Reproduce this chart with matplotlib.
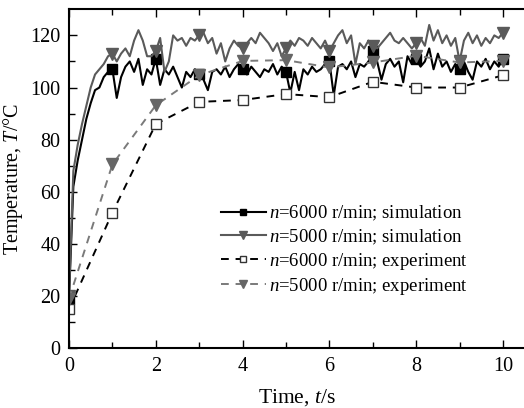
import matplotlib
matplotlib.use("Agg")
import matplotlib.pyplot as plt
import numpy as np

plt.rcParams['font.family'] = ['Liberation Serif', 'DejaVu Serif']
plt.rcParams['mathtext.fontset'] = 'custom'
plt.rcParams['mathtext.rm'] = 'Liberation Serif'
plt.rcParams['mathtext.it'] = 'Liberation Serif:italic'

# ---- data ----
t_sim = [round(0.1 * i, 1) for i in range(101)]
sim_6000 = [19, 62, 72, 80, 88, 94, 99, 100, 104, 106,
            107, 96, 104, 108, 110, 106, 111, 101, 107, 105,
            111, 101, 107, 105, 108, 104, 100, 106, 104, 107,
            105, 103, 99, 106, 107, 105, 108, 104, 107, 109,
            107, 105, 108, 106, 104, 107, 106, 109, 105, 108,
            106, 98, 106, 99, 107, 105, 108, 106, 107, 109,
            110, 97, 108, 109, 107, 110, 104, 109, 108, 110,
            114, 110, 103, 109, 111, 108, 110, 102, 112, 109,
            111, 108, 110, 115, 107, 113, 108, 110, 106, 109,
            107, 110, 106, 103, 110, 108, 111, 107, 110, 108,
            111]
sim_5000 = [20, 68, 78, 86, 93, 100, 105, 107, 109, 112,
            113, 110, 113, 115, 112, 118, 122, 118, 112, 112,
            114, 119, 106, 110, 120, 118, 119, 116, 119, 118,
            120, 121, 117, 119, 113, 117, 110, 115, 118, 116,
            115, 117, 119, 117, 121, 119, 117, 114, 117, 112,
            115, 118, 116, 119, 118, 116, 119, 117, 115, 118,
            114, 117, 120, 122, 117, 120, 109, 117, 115, 118,
            116, 115, 117, 119, 121, 118, 117, 119, 117, 115,
            117, 119, 116, 124, 118, 122, 117, 120, 116, 119,
            110, 118, 121, 117, 120, 116, 119, 117, 120, 119,
            121]
t_exp = [0, 1, 2, 3, 4, 5, 6, 7, 8, 9, 10]
exp_6000 = [15, 52, 86, 94.5, 95.2, 97.5, 96.3, 102.2, 100, 100, 104.7]
exp_5000 = [19, 70.5, 93.2, 104.7, 110.2, 110.5, 107.7, 109.6, 112.2, 109.6, 110.2]

labels = ['$n$=6000 r/min; simulation',
          '$n$=5000 r/min; simulation',
          '$n$=6000 r/min; experiment',
          '$n$=5000 r/min; experiment']

fig = plt.figure(figsize=(5.24, 4.08), dpi=100)
ax = fig.add_axes([69 / 524, 59.7 / 408, 455.7 / 524, 339 / 408])

mk = list(range(0, 101, 10))
ax.plot(t_sim, sim_6000, color='black', lw=1.5, marker='s', ms=7,
        markevery=mk, mfc='black', mec='black', label=labels[0])
ax.plot(t_sim, sim_5000, color='#5a5a5a', lw=1.5, marker='v', ms=8,
        markevery=mk, mfc='#5a5a5a', mec='#5a5a5a', label=labels[1])
ax.plot(t_exp, exp_6000, color='black', lw=1.4, ls=(0, (4, 3.5)), marker='s', ms=7,
        mfc='white', mec='#333333', mew=1.0, label=labels[2])
ax.plot(t_exp, exp_5000, color='#7a7a7a', lw=1.4, ls=(0, (4, 3.5)), marker='v', ms=8,
        mfc='#666666', mec='#666666', label=labels[3])

ax.set_xlim(0, 10.5)
ax.set_ylim(0, 130)
ax.set_xticks([0, 2, 4, 6, 8, 10])
ax.set_xticks([1, 3, 5, 7, 9], minor=True)
ax.set_yticks([0, 20, 40, 60, 80, 100, 120])
ax.set_yticks([10, 30, 50, 70, 90, 110], minor=True)
ax.tick_params(which='both', direction='in', top=True, right=False, width=1.0,
               labelsize=14.5, pad=6)
ax.tick_params(which='major', length=5.5)
ax.tick_params(which='minor', length=4)
for s in ['left', 'bottom', 'top']:
    ax.spines[s].set_linewidth(1.5)
ax.spines['right'].set_visible(False)

ax.set_xlabel('Time, $t$/s', fontsize=15.5, labelpad=8)
ax.set_ylabel('Temperature, $T$/°C', fontsize=14.5, labelpad=4)

leg = ax.legend(loc='upper left', bbox_to_anchor=(0.333, 0.425), frameon=False,
                fontsize=13.5, markerscale=0.65, handlelength=2.4,
                handletextpad=0.2, labelspacing=0.22, borderpad=0, borderaxespad=0)

fig.savefig('out.png', dpi=100)
